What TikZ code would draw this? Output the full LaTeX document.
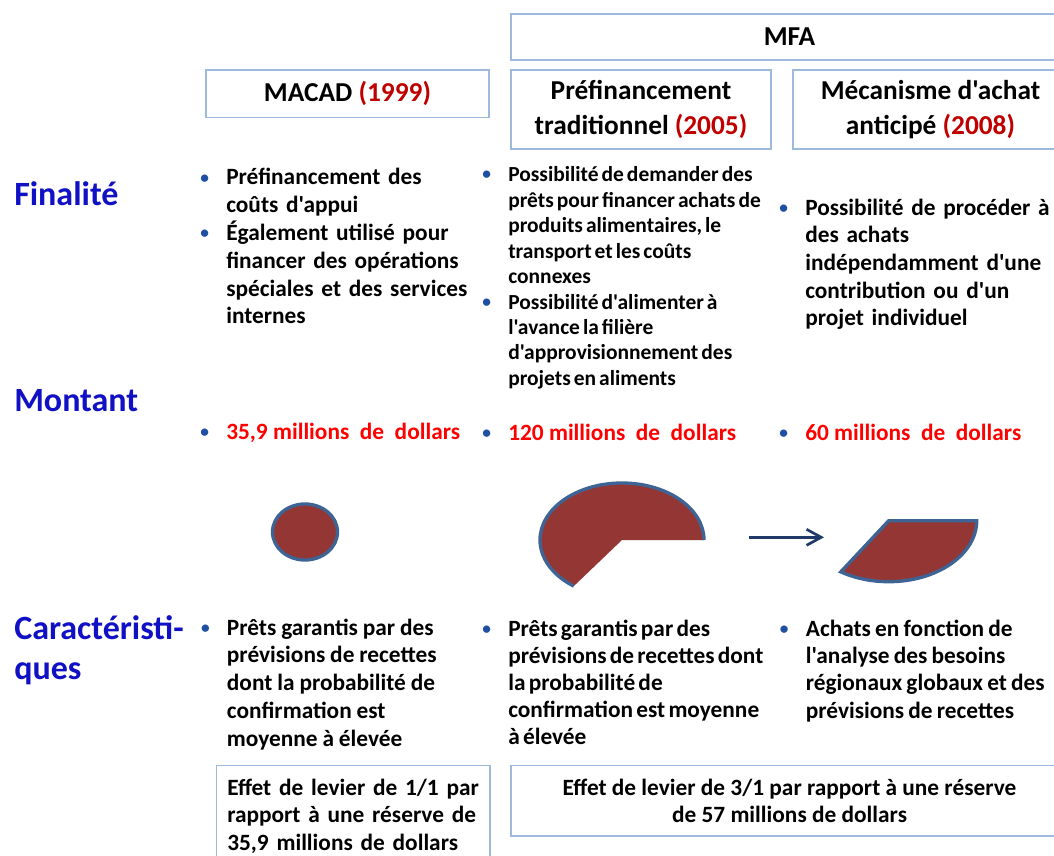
\documentclass[tikz,border=0pt]{standalone}
\usepackage{fontspec}
\setmainfont{Carlito}[Ligatures=TeXOff]
\usetikzlibrary{arrows.meta}

\definecolor{cadrebleu}{HTML}{9DB9DC}
\definecolor{titrebleu}{HTML}{1010C4}
\definecolor{pucebleu}{HTML}{1F4FA3}
\definecolor{anneerouge}{HTML}{C00000}
\definecolor{montantrouge}{HTML}{FF0000}
\definecolor{brique}{HTML}{943634}
\definecolor{bordpart}{HTML}{3D6494}
\definecolor{flechebleu}{HTML}{1F3A68}

\newcommand{\puce}{\leavevmode\llap{\raisebox{1.5pt}{\fontsize{13}{13}\selectfont\textcolor{pucebleu}{\textbullet}}\hspace{13pt}}}
\newcommand{\espace}[1]{\spaceskip=#1em\relax}

\begin{document}
\begin{tikzpicture}[x=0.75pt,y=-0.75pt,
  cadre/.style={draw=cadrebleu, line width=1pt, inner sep=0pt, align=center,
    font=\fontsize{20.5}{25.7}\selectfont\bfseries},
  rubrique/.style={anchor=base west, inner sep=0pt, text width=200pt, align=left,
    text=titrebleu, font=\fontsize{25.5}{30.5}\selectfont\bfseries},
  liste/.style={anchor=base west, inner sep=0pt, text width=230pt, align=left,
    font=\fontsize{17.5}{20.85}\selectfont\bfseries},
  somme/.style={anchor=base west, inner sep=0pt, text=montantrouge,
    font=\fontsize{17.5}{20.85}\selectfont\bfseries},
  part/.style={fill=brique, draw=bordpart, line width=2.5pt},
  fleche/.style={draw=flechebleu, line width=2pt, -{Straight Barb[length=11pt,width=12pt]}}]

\useasboundingbox (0,0) rectangle (1054,856);

% en-tetes
\node[cadre, minimum width=417.75pt, minimum height=34.5pt] (mfa) at (789.5,37) {MFA};
\node[cadre, minimum width=212.25pt, minimum height=35.5pt] (macad) at (347.5,93.7) {MACAD \textcolor{anneerouge}{(1999)}};
\node[cadre, minimum width=195pt, minimum height=59.25pt] (prefin) at (641,109.5) {Préfinancement\\traditionnel \textcolor{anneerouge}{(2005)}};
\node[cadre, minimum width=206.25pt, minimum height=59.25pt] (achat) at (930.5,109.5) {Mécanisme d'achat\\anticipé \textcolor{anneerouge}{(2008)}};

% rubriques
\node[rubrique] (finalite) at (14,205) {Finalité};
\node[rubrique] (montant) at (14,411) {Montant};
\node[rubrique] (caract) at (14,639.3) {Caractéristi-\\ques};

% finalite
\node[liste] (finA) at (226,185) {\puce Préfinancement des\\coûts d'appui\\\puce Également utilisé pour\\financer des opérations\\spéciales et des services\\internes};
\node[liste, font=\fontsize{16.1}{19.1}\selectfont\bfseries] (finB) at (508,181.7) {\espace{0.14}\puce Possibilité de demander des\\prêts pour financer achats de\\produits alimentaires, le\\transport et les coûts\\connexes\\\puce Possibilité d'alimenter à\\l'avance la filière\\d'approvisionnement des\\projets en aliments};
\node[liste, font=\fontsize{17.5}{20.8}\selectfont\bfseries] (finC) at (805,215) {\puce Possibilité de procéder à\\des achats\\indépendamment d'une\\contribution ou d'un\\projet individuel};

% montant
\node[somme] (sommeA) at (226,439.5) {\puce 35,9 millions\ \ de\ \ dollars};
\node[somme] (sommeB) at (508,440) {\puce 120 millions\ \ de\ \ dollars};
\node[somme] (sommeC) at (805,440) {\puce 60 millions\ \ de\ \ dollars};

% parts
\draw[part] (305,532) ellipse [x radius=32.5, y radius=28];
\coordinate (camembert) at (622,540);
\fill[brique] (camembert) -- ++(82,0) arc[start angle=0, end angle=-234, x radius=82, y radius=57] -- cycle;
\draw[bordpart, line width=2.5pt] (camembert) ++(82,0) arc[start angle=0, end angle=-234, x radius=82, y radius=57];
\coordinate (depart) at (749,537.3);
\coordinate (arrivee) at (824,537.3);
\draw[fleche] (depart) -- (arrivee);
\coordinate (portion) at (888.7,520.7);
\draw[part] (portion) -- ++(88,0) arc[start angle=0, end angle=123, x radius=88, y radius=61] -- cycle;

% caracteristiques
\node[liste, font=\fontsize{17.5}{20.9}\selectfont\bfseries] (carA) at (226.7,635) {\espace{0.21}\puce Prêts garantis par des\\prévisions de recettes\\dont la probabilité de\\confirmation est\\moyenne à élevée};
\node[liste, font=\fontsize{17.5}{20.4}\selectfont\bfseries] (carB) at (508,636) {\espace{0.14}\puce Prêts garantis par des\\prévisions de recettes dont\\la probabilité de\\confirmation est moyenne\\à élevée};
\node[liste, font=\fontsize{17.5}{20.5}\selectfont\bfseries] (carC) at (805.6,636) {\espace{0.18}\puce Achats en fonction de\\l'analyse des besoins\\régionaux globaux et des\\prévisions de recettes};

% effet de levier
\node[cadre, minimum width=205pt, minimum height=78pt] (levierun) at (353.35,817.7) {};
\node[liste, font=\fontsize{17.5}{20.85}\selectfont\bfseries] (leviertexte) at (227,795) {Effet de levier de 1/1 par\\rapport à une réserve de\\35,9 millions de dollars};
\node[cadre, font=\fontsize{17.5}{20}\selectfont\bfseries, minimum width=417.75pt, minimum height=52.7pt] (leviertrois) at (789.5,800.85) {Effet de levier de 3/1 par rapport à une réserve\\de 57 millions de dollars};

\end{tikzpicture}
\end{document}
